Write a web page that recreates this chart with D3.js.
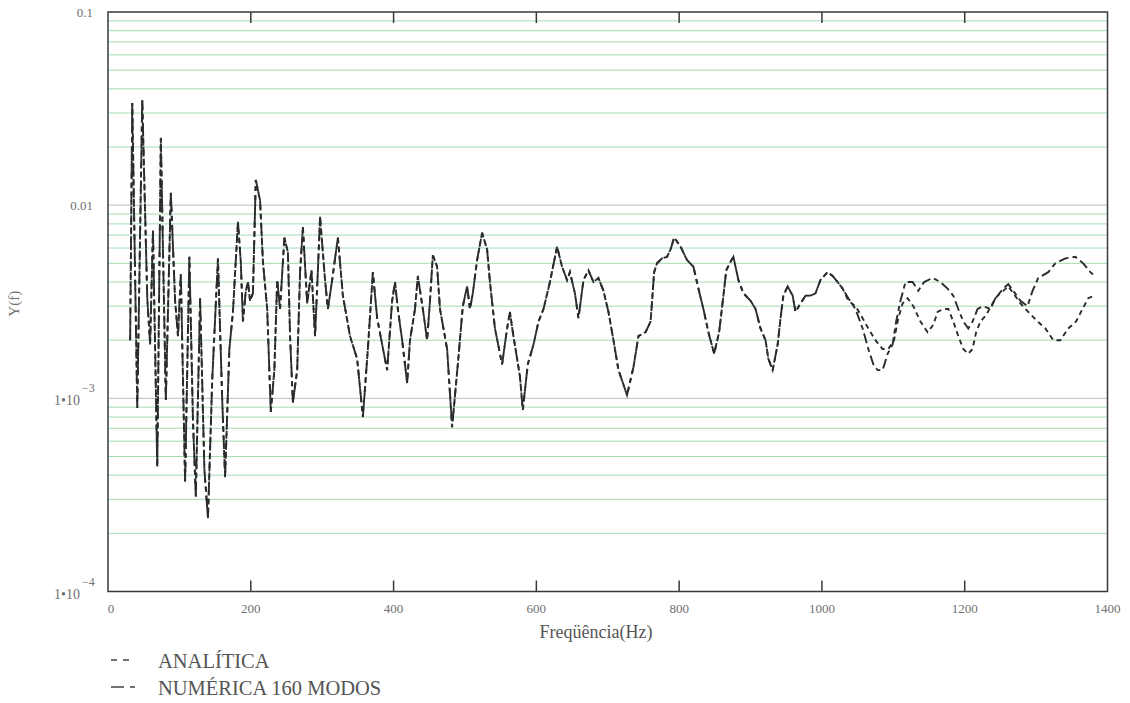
<!DOCTYPE html>
<html>
<head>
<meta charset="utf-8">
<script src="https://cdn.jsdelivr.net/npm/d3@7"></script>
<style>
  body { margin: 0; background: #fff; }
  svg { display: block; }
  svg text { font-family: "Liberation Serif", "Times New Roman", Times, "DejaVu Serif", serif; }
</style>
</head>
<body>
<svg id="chart" width="1130" height="703"></svg>
<script>
// Frequency response Y(f), common part of both curves (Hz, amplitude)
const freqShared = [31, 34, 41, 48, 55, 59, 63, 69, 74, 81, 88, 94, 98, 102, 108, 114, 119, 123, 129, 135,
  140, 146, 154, 160, 164, 170, 175, 182, 186, 189, 193, 196, 199, 203, 207, 213, 217, 223, 228, 233,
  237, 241, 247, 252, 255, 259, 265, 269, 273, 279, 285, 290, 294, 297, 304, 308, 314, 322, 329, 339,
  349, 357, 364, 371, 377, 384, 391, 398, 402, 406, 412, 419, 423, 430, 434, 441, 447, 451, 455, 461,
  465, 475, 482, 490, 497, 503, 507, 511, 517, 524, 531, 535, 542, 552, 559, 563, 567, 577, 581, 588,
  596, 603, 610, 619, 629, 636, 643, 647, 654, 659, 666, 673, 680, 687, 694, 701, 708, 715, 727, 736,
  743, 753, 760, 765, 769, 776, 783, 788, 793, 802, 811, 820, 827, 834, 841, 849, 856, 862, 866, 872,
  876, 883, 890, 900, 907, 914, 921, 925, 931, 938, 942, 946, 952, 959, 963, 970, 977, 984, 991, 998,
  1008, 1015, 1022, 1029];
const ampShared = [0.0020, 0.0338, 0.00089, 0.0350, 0.0033, 0.0019, 0.0074, 0.00044, 0.0223, 0.00098,
  0.0116, 0.0032, 0.0021, 0.0044, 0.00037, 0.0054, 0.00077, 0.00031, 0.0033, 0.00043,
  0.00024, 0.00125, 0.0053, 0.00098, 0.00039, 0.0018, 0.0028, 0.0082, 0.0051, 0.0025,
  0.0036, 0.0040, 0.0032, 0.0035, 0.0135, 0.0106, 0.0051, 0.0029, 0.00085, 0.0014,
  0.0041, 0.0029, 0.0068, 0.0057, 0.0021, 0.00095, 0.0014, 0.0045, 0.0077, 0.0031,
  0.0046, 0.0021, 0.0046, 0.0087, 0.0041, 0.0029, 0.0041, 0.0068, 0.0034, 0.0021,
  0.0016, 0.00080, 0.0018, 0.0045, 0.0026, 0.0019, 0.0014, 0.0032, 0.0040, 0.0029,
  0.0020, 0.0012, 0.0020, 0.0029, 0.0043, 0.0029, 0.0020, 0.0032, 0.0055, 0.0048,
  0.0029, 0.0018, 0.00071, 0.0015, 0.0030, 0.0038, 0.0029, 0.0035, 0.0052, 0.0072,
  0.0059, 0.0040, 0.0023, 0.0015, 0.0023, 0.0028, 0.0022, 0.0013, 0.00087, 0.0015,
  0.0019, 0.0025, 0.0029, 0.0040, 0.0061, 0.0048, 0.0041, 0.0045, 0.0035, 0.0026,
  0.0041, 0.0046, 0.0040, 0.0042, 0.0036, 0.0028, 0.0020, 0.0014, 0.00104, 0.00145,
  0.0021, 0.0022, 0.0025, 0.0045, 0.0050, 0.0053, 0.0054, 0.0059, 0.0068, 0.0061,
  0.0052, 0.0048, 0.0037, 0.0029, 0.0022, 0.0017, 0.0022, 0.0034, 0.0046, 0.0051,
  0.0054, 0.0041, 0.0035, 0.0032, 0.0029, 0.0023, 0.0020, 0.0016, 0.0014, 0.0019,
  0.0026, 0.0034, 0.0038, 0.0034, 0.0028, 0.0031, 0.0034, 0.0034, 0.0035, 0.0041,
  0.0045, 0.0043, 0.0040, 0.0037];

// Analytical solution above ~1030 Hz
const freqAnalitica = [1037, 1047, 1057, 1065, 1075, 1085, 1093, 1101, 1107, 1113, 1120, 1128, 1138, 1148,
  1156, 1162, 1170, 1177, 1184, 1191, 1198, 1205, 1211, 1216, 1222, 1230, 1239, 1246, 1254, 1261,
  1268, 1278, 1289, 1302, 1313, 1324, 1334, 1345, 1356, 1365, 1373, 1382];
const ampAnalitica = [0.0032, 0.0030, 0.0026, 0.0023, 0.0020, 0.0018, 0.0018, 0.0020, 0.0026, 0.0031,
  0.0033, 0.0030, 0.0025, 0.0022, 0.0024, 0.0028, 0.0029, 0.0029, 0.0025, 0.0021,
  0.0018, 0.0017, 0.0018, 0.0022, 0.0025, 0.0027, 0.0031, 0.0034, 0.0036, 0.0038,
  0.0035, 0.0031, 0.0028, 0.0025, 0.0023, 0.0020, 0.0020, 0.0023, 0.0025, 0.0029,
  0.0033, 0.0034];

// Numerical model with 160 modes above ~1030 Hz
const freqNumerica = [1037, 1047, 1057, 1065, 1072, 1078, 1085, 1092, 1099, 1104, 1110, 1117, 1127, 1135,
  1143, 1155, 1166, 1176, 1184, 1191, 1198, 1205, 1211, 1218, 1226, 1236, 1243, 1254, 1261, 1268,
  1278, 1288, 1295, 1303, 1317, 1327, 1341, 1355, 1366, 1376, 1382];
const ampNumerica = [0.0033, 0.0029, 0.0023, 0.0018, 0.0015, 0.0014, 0.0014, 0.0017, 0.0019, 0.0025,
  0.0032, 0.0040, 0.0040, 0.0036, 0.0040, 0.0042, 0.0040, 0.0037, 0.0034, 0.0029,
  0.0025, 0.0023, 0.0025, 0.0029, 0.0030, 0.0029, 0.0033, 0.0037, 0.0039, 0.0036,
  0.0032, 0.0030, 0.0036, 0.0042, 0.0045, 0.0050, 0.0053, 0.0054, 0.0050, 0.0045,
  0.0043];

const xTicks = [0, 200, 400, 600, 800, 1000, 1200, 1400];
const yDecades = [1e-4, 1e-3, 1e-2, 1e-1];
const yDecadeLabels = [["1\u202210", "\u22124"], ["1\u202210", "\u22123"], ["0.01", null], ["0.1", null]];
const legendLabels = ["ANAL\u00CDTICA", "NUM\u00C9RICA 160 MODOS"];

const svg = d3.select("#chart");
const plotL = 108, plotR = 1107.5, plotT = 12, plotB = 591.5;

const x = d3.scaleLinear().domain([0, 1400]).range([plotL, plotR]);
const y = d3.scaleLog().domain([1e-4, 0.1]).range([plotB, plotT]);

const textGrey = "#707070";

// Horizontal grid: minor lines in green, decade lines in grey
const minor = [];
yDecades.slice(0, 3).forEach(d => { for (let m = 2; m <= 9; m++) minor.push(m * d); });
svg.append("g").selectAll("line").data(minor).join("line")
  .attr("x1", plotL).attr("x2", plotR)
  .attr("y1", d => y(d)).attr("y2", d => y(d))
  .attr("stroke", "#a2dcb2").attr("stroke-width", 1);
svg.append("g").selectAll("line").data([1e-3, 1e-2]).join("line")
  .attr("x1", plotL).attr("x2", plotR)
  .attr("y1", d => y(d)).attr("y2", d => y(d))
  .attr("stroke", "#b4c2b8").attr("stroke-width", 1);

// Data series
const toPoints = (fs, vs) => fs.map((f, i) => [f, vs[i]]);
const shared = toPoints(freqShared, ampShared);
const analitica = shared.concat(toPoints(freqAnalitica, ampAnalitica));
const numerica = shared.concat(toPoints(freqNumerica, ampNumerica));

const line = d3.line().x(d => x(d[0])).y(d => y(d[1]));
const dashA = "5,4";
const dashN = "10,4,5,4";

svg.append("path").datum(numerica)
  .attr("d", line).attr("fill", "none")
  .attr("stroke", "#2b2b2b").attr("stroke-width", 1.9)
  .attr("stroke-dasharray", dashN);
svg.append("path").datum(analitica)
  .attr("d", line).attr("fill", "none")
  .attr("stroke", "#2b2b2b").attr("stroke-width", 1.9)
  .attr("stroke-dasharray", dashA);

// Frame and inner tick marks
svg.append("rect")
  .attr("x", plotL).attr("y", plotT)
  .attr("width", plotR - plotL).attr("height", plotB - plotT)
  .attr("fill", "none").attr("stroke", "#3a3a3a").attr("stroke-width", 1.5);

const inner = xTicks.slice(1, -1);
svg.append("g").selectAll("line").data(inner).join("line")
  .attr("x1", d => x(d)).attr("x2", d => x(d))
  .attr("y1", plotB).attr("y2", plotB - 11)
  .attr("stroke", "#3a3a3a").attr("stroke-width", 1.5);
svg.append("g").selectAll("line").data(inner).join("line")
  .attr("x1", d => x(d)).attr("x2", d => x(d))
  .attr("y1", plotT).attr("y2", plotT + 11)
  .attr("stroke", "#3a3a3a").attr("stroke-width", 1.5);

// X tick labels
svg.append("g").selectAll("text").data(xTicks).join("text")
  .attr("x", d => x(d) + (d === 0 ? 3 : 0)).attr("y", plotB + 21)
  .attr("text-anchor", "middle")
  .attr("font-size", 13)
  .attr("fill", textGrey)
  .text(d => d);

// Y tick labels
const yl = svg.append("g");
yDecades.forEach((d, i) => {
  const [base, exp] = yDecadeLabels[i];
  if (exp === null) {
    yl.append("text")
      .attr("x", 93).attr("y", y(d) + 5)
      .attr("text-anchor", "end")
      .attr("font-size", 13)
      .attr("fill", textGrey).text(base);
  } else {
    yl.append("text")
      .attr("x", 80).attr("y", y(d) + 7)
      .attr("text-anchor", "end")
      .attr("font-size", 14)
      .attr("fill", textGrey).text(base);
    yl.append("text")
      .attr("x", 82).attr("y", y(d) - 6)
      .attr("text-anchor", "start")
      .attr("font-size", 12)
      .attr("fill", textGrey).text(exp);
  }
});

// Axis titles
svg.append("text")
  .attr("transform", `translate(19,${(plotT + plotB) / 2 + 2}) rotate(-90)`)
  .attr("text-anchor", "middle")
  .attr("font-size", 15)
  .attr("fill", textGrey).text("Y(f)");

svg.append("text")
  .attr("x", 596).attr("y", 638)
  .attr("text-anchor", "middle")
  .attr("font-size", 18)
  .attr("fill", "#555").text("Freq\u00FC\u00EAncia(Hz)");

// Legend
const legend = svg.append("g");
[dashA, dashN].forEach((dash, i) => {
  const ly = 660 + i * 27;
  legend.append("line")
    .attr("x1", 111).attr("x2", 135)
    .attr("y1", ly).attr("y2", ly)
    .attr("stroke", "#444").attr("stroke-width", 1.3)
    .attr("stroke-dasharray", i === 0 ? "6,6" : "13,6,6,6");
  legend.append("text")
    .attr("x", 158).attr("y", ly + 8)
    .attr("font-size", 20.5)
    .attr("fill", "#555").text(legendLabels[i]);
});
</script>
</body>
</html>
